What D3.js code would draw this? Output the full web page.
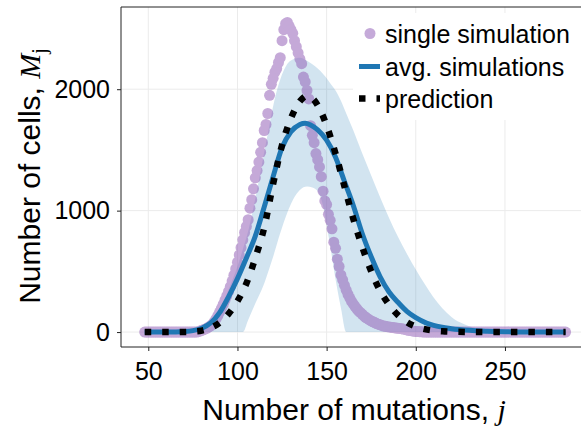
<!DOCTYPE html>
<html><head><meta charset="utf-8">
<script src="https://cdn.jsdelivr.net/npm/d3@7"></script>
<style>body{margin:0;background:#fff} svg{display:block}</style>
</head><body><svg id="c" width="581" height="432"></svg>
<script>
const xTicks = [50, 100, 150, 200, 250];
const yTicks = [0, 1000, 2000];
const legendLabels = ["single simulation", "avg. simulations", "prediction"];

// single simulation: counts for j = simStart, simStart+1, ...
const simStart = 48;
const simCounts = [
  0,0,0,0,0,0,0,0,0,0, 0,0,0,0,0,0,0,0,0,0, 0,0,0,0,0,0,0,0,0,0,
  3,8,15,20,26,33,42,52,65,85,
  108,135,165,196,228,262,298,335,375,420,
  468,520,575,635,695,760,820,870,925,1020,
  1090,1180,1270,1330,1400,1480,1560,1660,1710,1800,
  1950,2040,2090,2140,2170,2220,2260,2400,2490,2540,
  2550,2520,2490,2460,2400,2350,2300,2250,2210,2100,
  2060,1990,1920,1700,1620,1560,1470,1420,1360,1280,
  1160,1080,1050,970,920,850,740,690,600,540,
  470,430,385,345,310,280,252,230,210,190,
  172,160,146,132,120,110,100,92,85,78,
  70,65,60,55,50,47,44,42,40,37,
  35,33,31,30,28,25,22,18,15,12,
  9,7,5,4,3,2,1,
  0,0,0,0,0,0,0,0,0,0, 0,0,0,0,0,0,0,0,0,0, 0,0,0,0,0,0,0,0,0,0, 0,0,0,0,0,0,0,0,0,0,
  0,0,0,0,0,0,0,0,0,0, 0,0,0,0,0,0,0,0,0,0, 0,0,0,0,0,0,0,0,0,0, 0,0,0,0,0,0,0,0,0,0
];

// average of simulations
const avgJ = [48,60,65,70,75,80,85,90,95,100,105,110,115,120,125,130,135,138,141,145,150,155,160,165,170,175,180,185,190,195,200,206,210,220,230,240,250,260,270,284];
const avgM = [0,0,1,4,12,32,75,160,290,440,610,790,1030,1280,1520,1650,1710,1720,1705,1665,1580,1440,1240,1040,810,620,455,330,245,170,118,74,55,28,14,7,3,1,0,0];

// prediction
const predJ = [48,60,70,75,80,85,90,95,100,105,110,115,120,125,130,135,139,143,147,150,155,160,165,170,175,180,185,190,195,200,205,210,215,220,230,240,284];
const predM = [0,0,1,4,12,35,78,150,255,400,610,860,1220,1540,1760,1900,1945,1910,1810,1700,1470,1200,930,700,500,340,225,140,82,45,24,12,6,3,1,0,0];

// spread band of simulations
const bandJ =     [48,60,70,75,80,85,90,95,100,103,106,110,115,118,120,124,128,131,135,139,142,145,148,150,152,155,158,161,165,170,175,180,185,190,195,200,205,210,215,220,225,230,240,250,260,270,284];
const bandUpper = [0,0,2,8,30,80,180,350,540,680,830,1100,1480,1710,1860,2080,2210,2245,2260,2235,2205,2170,2125,2090,2050,1990,1905,1800,1660,1470,1290,1110,940,785,645,515,395,285,195,125,78,48,16,5,1,0,0];
const bandLower = [0,0,0,0,0,0,0,0,0,0,100,235,400,530,620,815,985,1085,1170,1198,1190,1160,1040,880,710,435,200,0,0,0,0,0,0,0,0,0,0,0,0,0,0,0,0,0,0,0,0];

const svg = d3.select("#c");
const L = 121, R = 587, T = 7, B = 347;
const x = d3.scaleLinear().domain([34.7, 296]).range([L, R]);
const y = d3.scaleLinear().domain([-123, 2677]).range([B, T]);

const font = "'Liberation Sans', Arial, Helvetica, sans-serif";
const serif = "'Liberation Serif', 'DejaVu Serif', serif";
const blue = "#1f77b4";
const purple = "rgb(150,100,185)";

// grid
const g = svg.append("g");
g.selectAll(".vg").data(xTicks).enter().append("line")
  .attr("x1", d => x(d)).attr("x2", d => x(d)).attr("y1", T).attr("y2", B)
  .attr("stroke", "#ebebeb").attr("stroke-width", 1);
g.selectAll(".hg").data(yTicks).enter().append("line")
  .attr("x1", L).attr("x2", R).attr("y1", d => y(d)).attr("y2", d => y(d))
  .attr("stroke", "#ebebeb").attr("stroke-width", 1);

svg.append("defs").append("clipPath").attr("id", "pc")
  .append("rect").attr("x", L).attr("y", T).attr("width", R - L).attr("height", B - T);
const plot = svg.append("g").attr("clip-path", "url(#pc)");

// band
const band = bandJ.map((j, i) => ({ j, lo: bandLower[i], hi: bandUpper[i] }));
plot.append("path").datum(band)
  .attr("d", d3.area().x(d => x(d.j)).y0(d => y(d.lo)).y1(d => y(d.hi)).curve(d3.curveMonotoneX))
  .attr("fill", blue).attr("fill-opacity", 0.2);

// single simulation dots
const sim = simCounts.map((m, i) => ({ j: simStart + i, m }));
plot.append("g").attr("opacity", 0.55).selectAll("circle").data(sim).enter().append("circle")
  .attr("cx", d => x(d.j)).attr("cy", d => y(d.m)).attr("r", 5.5).attr("fill", purple);

// average line
const avg = avgJ.map((j, i) => ({ j, m: avgM[i] }));
plot.append("path").datum(avg)
  .attr("d", d3.line().x(d => x(d.j)).y(d => y(d.m)).curve(d3.curveMonotoneX))
  .attr("fill", "none").attr("stroke", blue).attr("stroke-width", 5);

// prediction
const pred = predJ.map((j, i) => ({ j, m: predM[i] }));
plot.append("path").datum(pred)
  .attr("d", d3.line().x(d => x(d.j)).y(d => y(d.m)).curve(d3.curveMonotoneX))
  .attr("fill", "none").attr("stroke", "#000").attr("stroke-width", 6.5)
  .attr("stroke-dasharray", "6.5 11");

// spines
svg.append("line").attr("x1", L).attr("x2", L).attr("y1", T).attr("y2", B).attr("stroke", "#222").attr("stroke-width", 1);
svg.append("line").attr("x1", L).attr("x2", R).attr("y1", B).attr("y2", B).attr("stroke", "#222").attr("stroke-width", 1);
svg.append("line").attr("x1", L).attr("x2", R).attr("y1", T).attr("y2", T).attr("stroke", "#222").attr("stroke-width", 1);

// axes
const xAxis = svg.append("g").attr("transform", `translate(0,${B})`)
  .call(d3.axisBottom(x).tickValues(xTicks).tickSize(4).tickPadding(11).tickFormat(d3.format("d")));
const yAxis = svg.append("g").attr("transform", `translate(${L},0)`)
  .call(d3.axisLeft(y).tickValues(yTicks).tickSize(4).tickPadding(7).tickFormat(d3.format("d")));
[xAxis, yAxis].forEach(a => {
  a.select(".domain").remove();
  a.selectAll(".tick line").attr("stroke", "#222");
  a.selectAll(".tick text").attr("font-family", font).attr("font-size", 25).attr("fill", "#000");
});

// axis titles
const xl = svg.append("text").attr("x", 354).attr("y", 420).attr("text-anchor", "middle")
  .attr("font-family", font).attr("font-size", 30).attr("fill", "#000");
xl.append("tspan").text("Number of mutations, ");
xl.append("tspan").attr("font-family", serif).attr("font-style", "italic").text("j");

const yl = svg.append("text").attr("transform", "translate(40,176) rotate(-90)").attr("text-anchor", "middle")
  .attr("font-family", font).attr("font-size", 30).attr("fill", "#000");
yl.append("tspan").text("Number of cells, ");
yl.append("tspan").attr("font-family", serif).attr("font-style", "italic").text("M");
yl.append("tspan").attr("font-family", serif).attr("font-size", 20).attr("dy", 6).text("j");

// legend
const lg = svg.append("g");
lg.append("rect").attr("x", 353).attr("y", 13).attr("width", 240).attr("height", 107).attr("fill", "#fff");
const rows = [33.5, 66.5, 98.5];
lg.append("circle").attr("cx", 370).attr("cy", rows[0]).attr("r", 5.5).attr("fill", purple).attr("opacity", 0.55);
lg.append("line").attr("x1", 359).attr("x2", 380).attr("y1", rows[1]).attr("y2", rows[1]).attr("stroke", blue).attr("stroke-width", 5);
lg.append("line").attr("x1", 359).attr("x2", 380).attr("y1", rows[2]).attr("y2", rows[2]).attr("stroke", "#000").attr("stroke-width", 6.5).attr("stroke-dasharray", "6.5 11");
lg.selectAll(".lt").data(legendLabels).enter().append("text")
  .attr("x", 385).attr("y", (d, i) => rows[i] + 9)
  .attr("font-family", font).attr("font-size", 25).attr("fill", "#000").text(d => d);
</script></body></html>
